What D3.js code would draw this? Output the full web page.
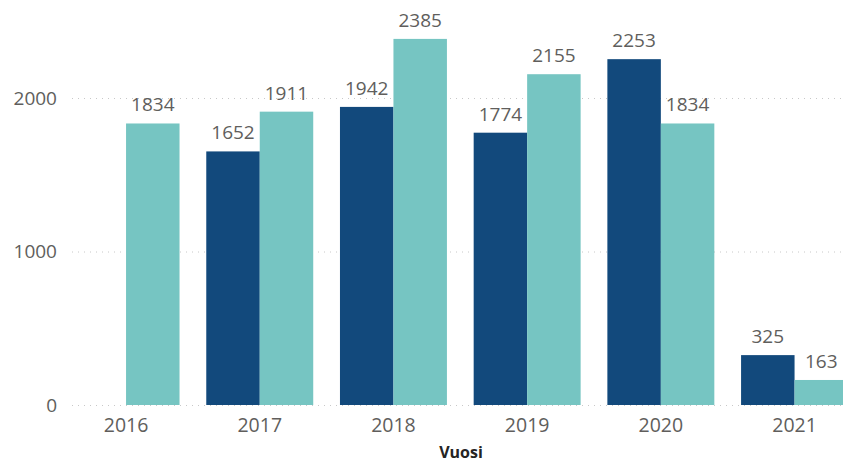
<!DOCTYPE html>
<html>
<head>
<meta charset="utf-8">
<script src="https://cdn.jsdelivr.net/npm/d3@7"></script>
<style>
  body { margin: 0; background: #fff; }
  #chart { width: 843px; height: 463px; overflow: hidden; }
  text { font-family: "Open Sans", "Noto Sans", sans-serif; }
</style>
</head>
<body>
<div id="chart"></div>
<script>
// years on the x axis
const years = ["2016", "2017", "2018", "2019", "2020", "2021"];
// two series, dark and light bar in each year
const seriesKeys = ["dark", "light"];
const darkValues = [0, 1652, 1942, 1774, 2253, 325];
const lightValues = [1834, 1911, 2385, 2155, 1834, 163];
const yTicks = [0, 1000, 2000];

const width = 843;
const height = 463;

const svg = d3.select("#chart")
    .append("svg")
    .attr("width", width)
    .attr("height", height);

const data = years.map((y, i) => ({ year: y, dark: darkValues[i], light: lightValues[i] }));

const colorScale = d3.scaleOrdinal()
    .domain(seriesKeys)
    .range(["#12497c", "#76c5c2"]);

// outer band scale, runs a bit off the right edge like the original
const xScale = d3.scaleBand()
    .domain(years)
    .range([59.2, 861.4])
    .paddingInner(0.2)
    .paddingOuter(0.1);

const xInner = d3.scaleBand()
    .domain(seriesKeys)
    .range([0, xScale.bandwidth()]);

const yScale = d3.scaleLinear()
    .domain([0, 2000])
    .range([405, 98]);

// dotted gridlines
svg.selectAll(".grid")
    .data(yTicks)
    .enter()
    .append("line")
    .attr("class", "grid")
    .attr("x1", 72)
    .attr("x2", width)
    .attr("y1", d => yScale(d) + 0.5)
    .attr("y2", d => yScale(d) + 0.5)
    .attr("stroke", "#c8c8c8")
    .attr("stroke-width", 1)
    .attr("stroke-dasharray", "1,5");

// y tick labels
svg.selectAll(".ytick")
    .data(yTicks)
    .enter()
    .append("text")
    .attr("class", "ytick")
    .attr("x", 57)
    .attr("y", d => yScale(d))
    .attr("dy", "0.35em")
    .attr("text-anchor", "end")
    .attr("font-size", 19)
    .attr("fill", "#605e5c")
    .text(d => d);

// bars
const groups = svg.selectAll(".group")
    .data(data)
    .enter()
    .append("g")
    .attr("class", "group")
    .attr("transform", d => `translate(${xScale(d.year)},0)`);

groups.selectAll("rect")
    .data(d => seriesKeys.map(k => ({ key: k, value: d[k] })))
    .enter()
    .append("rect")
    .attr("x", d => xInner(d.key))
    .attr("width", xInner.bandwidth())
    .attr("y", d => yScale(d.value))
    .attr("height", d => yScale(0) - yScale(d.value))
    .attr("fill", d => colorScale(d.key));

// value labels, skip the empty bar
groups.selectAll(".val")
    .data(d => seriesKeys.map(k => ({ key: k, value: d[k] })).filter(v => v.value > 0))
    .enter()
    .append("text")
    .attr("class", "val")
    .attr("x", d => xInner(d.key) + xInner.bandwidth() / 2)
    .attr("y", d => yScale(d.value) - 12)
    .attr("text-anchor", "middle")
    .attr("font-size", 19)
    .attr("fill", "#605e5c")
    .text(d => d.value);

// x labels
svg.selectAll(".xtick")
    .data(years)
    .enter()
    .append("text")
    .attr("class", "xtick")
    .attr("x", d => xScale(d) + xScale.bandwidth() / 2)
    .attr("y", 425)
    .attr("dy", "0.35em")
    .attr("text-anchor", "middle")
    .attr("font-size", 19.5)
    .attr("fill", "#605e5c")
    .text(d => d);

// axis title
svg.append("text")
    .attr("x", 461)
    .attr("y", 452)
    .attr("dy", "0.35em")
    .attr("text-anchor", "middle")
    .attr("font-size", 16)
    .attr("font-weight", "bold")
    .attr("fill", "#252423")
    .text("Vuosi");
</script>
</body>
</html>
